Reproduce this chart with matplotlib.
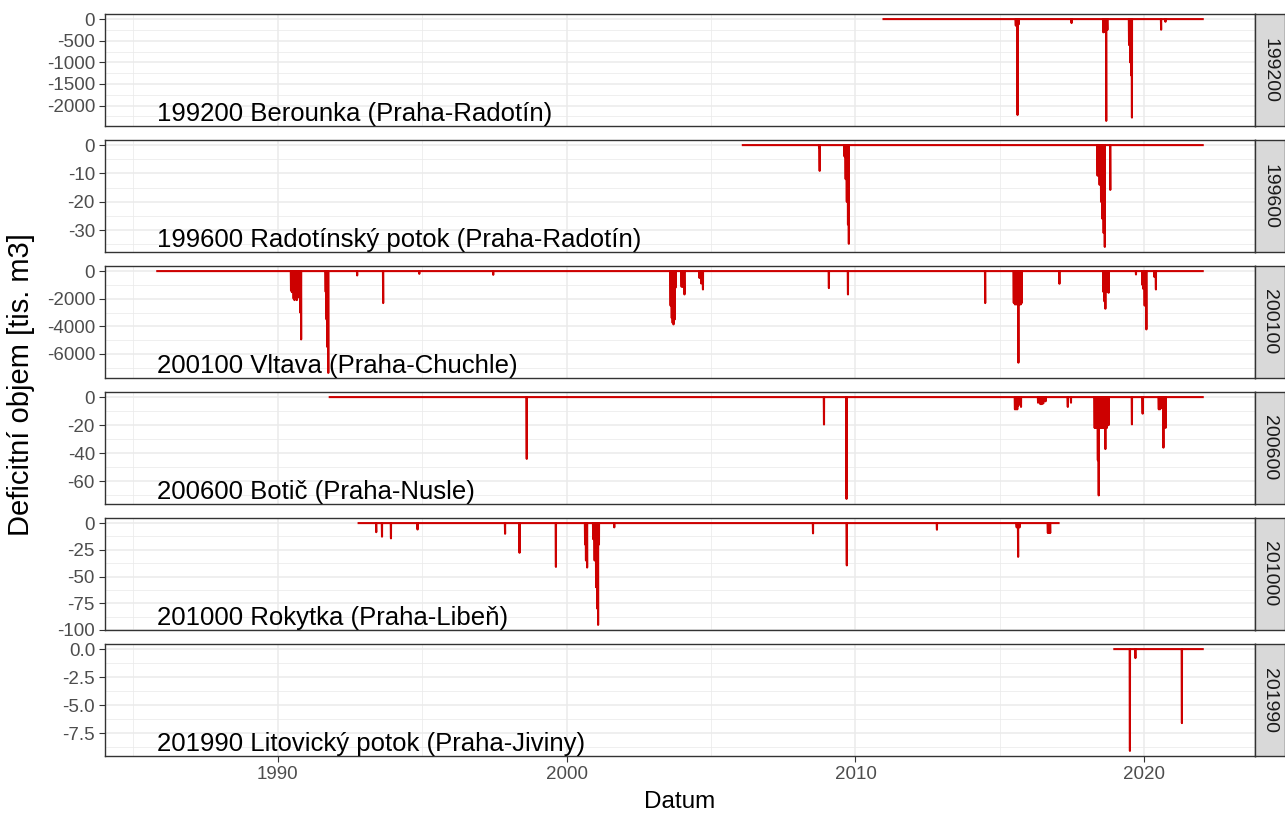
import matplotlib
matplotlib.use("Agg")
import matplotlib.pyplot as plt
from matplotlib.ticker import FixedLocator, MultipleLocator

plt.rcParams['font.family'] = ['Liberation Sans', 'DejaVu Sans']
plt.rcParams['axes.unicode_minus'] = False

# ---- data: deficit volume events per gauging station -------------------
stations = ["199200", "199600", "200100", "200600", "201000", "201990"]
station_names = [
    "199200 Berounka (Praha-Radotín)",
    "199600 Radotínský potok (Praha-Radotín)",
    "200100 Vltava (Praha-Chuchle)",
    "200600 Botič (Praha-Nusle)",
    "201000 Rokytka (Praha-Libeň)",
    "201990 Litovický potok (Praha-Jiviny)",
]

# observation period (decimal years)
span_199200 = (2010.97, 2022.02)
span_199600 = (2006.10, 2022.02)
span_200100 = (1985.83, 2022.02)
span_200600 = (1991.80, 2022.02)
span_201000 = (1992.80, 2017.03)
span_201990 = (2018.96, 2022.02)

# deficit peaks: date (decimal year) and deficit volume [tis. m3]
t_199200 = [2015.55, 2015.58, 2015.61, 2015.65, 2017.48,
            2018.58, 2018.62, 2018.68, 2018.72,
            2019.47, 2019.51, 2019.54, 2019.57, 2020.58, 2020.73]
v_199200 = [-150, -154, -2218, -120, -92,
            -306, -300, -2355, -250,
            -600, -1000, -1300, -2278, -245, -62]

t_199600 = [2008.74, 2008.76,
            2009.62, 2009.66, 2009.70, 2009.74, 2009.77,
            2018.38, 2018.45, 2018.50, 2018.55, 2018.59, 2018.63, 2018.82]
v_199600 = [-1, -9.1,
            -4, -12, -20, -28, -34.8,
            -10.8, -14, -20, -26, -31, -35.9, -15.8]

t_200100 = [1990.46, 1990.49, 1990.52, 1990.55, 1990.58, 1990.62, 1990.66,
            1990.70, 1990.74, 1990.78, 1990.81,
            1991.66, 1991.69, 1991.72, 1991.75,
            1992.75, 1993.65, 1994.90, 1997.46,
            2003.60, 2003.64, 2003.67, 2003.70, 2003.74, 2003.77,
            2003.98, 2004.02, 2004.08, 2004.60, 2004.66, 2004.72,
            2009.08, 2009.74, 2014.49,
            2015.48, 2015.52, 2015.56, 2015.60, 2015.64, 2015.68, 2015.72, 2015.76,
            2017.06,
            2018.58, 2018.62, 2018.65, 2018.70, 2018.76,
            2019.71, 2019.93, 2019.96, 2020.01, 2020.07, 2020.35, 2020.40]
v_200100 = [-1400, -1520, -1500, -2000, -2100, -1800, -2100,
            -1900, -1900, -3000, -4945,
            -1500, -3500, -5500, -7370,
            -315, -2315, -200, -270,
            -2500, -3400, -3750, -3860, -3500, -1200,
            -1135, -1135, -1690, -500, -900, -1330,
            -1230, -1690, -2315,
            -2300, -2410, -2410, -2410, -6630, -2410, -2410, -2300,
            -920,
            -1500, -2200, -2725, -1500, -1570,
            -245, -1000, -1280, -2500, -4220, -430, -1330]

t_200600 = [1998.62, 2008.91, 2009.69,
            2015.52, 2015.56, 2015.60, 2015.64, 2015.73,
            2016.32, 2016.40, 2016.45, 2016.50, 2016.58, 2017.35, 2017.46,
            2018.28, 2018.32, 2018.35, 2018.39, 2018.42, 2018.47, 2018.51,
            2018.55, 2018.59, 2018.65, 2018.70, 2018.76,
            2019.57, 2019.94,
            2020.50, 2020.54, 2020.57, 2020.66, 2020.70, 2020.74]
v_200600 = [-44, -19.5, -72.5,
            -8.7, -8.7, -8.7, -6, -7,
            -4, -5, -5, -4.5, -3, -7, -4,
            -22, -22, -20, -45, -70, -22, -22,
            -22, -22, -37, -22, -20,
            -19.4, -11.8,
            -8.7, -8.7, -8, -36, -21.8, -21.8]

t_201000 = [1993.41, 1993.61, 1993.92, 1994.84, 1997.87, 1998.37, 1999.63,
            2000.64, 2000.67, 2000.71,
            2000.92, 2000.97, 2001.02, 2001.06, 2001.09, 2001.12,
            2001.65, 2008.53, 2009.70, 2012.82,
            2015.58, 2015.63, 2015.68, 2016.66, 2016.70, 2016.74]
v_201000 = [-8.5, -12.7, -14.3, -6, -10, -27.8, -41,
            -20, -35, -41.6,
            -15, -35, -60, -80, -95.3, -20,
            -4, -9.6, -39.6, -6.2,
            -4, -31.6, -4, -9.3, -9.3, -9.3]

t_201990 = [2019.50, 2019.69, 2021.30]
v_201990 = [-9.08, -0.8, -6.6]

spans = [span_199200, span_199600, span_200100, span_200600, span_201000, span_201990]
event_t = [t_199200, t_199600, t_200100, t_200600, t_201000, t_201990]
event_v = [v_199200, v_199600, v_200100, v_200600, v_201000, v_201990]

# y-axis breaks per station
y_breaks = [
    [0, -500, -1000, -1500, -2000],
    [0, -10, -20, -30],
    [0, -2000, -4000, -6000],
    [0, -20, -40, -60],
    [0, -25, -50, -75, -100],
    [0.0, -2.5, -5.0, -7.5],
]
y_fmt = ["{:.0f}", "{:.0f}", "{:.0f}", "{:.0f}", "{:.0f}", "{:.1f}"]
x_breaks = [1990, 2000, 2010, 2020]
x_minor = [1985, 1995, 2005, 2015]

ACCUM_DAYS = 3.0  # days over which each peak deficit builds up


def deficit_series(span, t, v):
    """Deficit line: zero between events, dropping to each event peak."""
    xs, ys = [span[0]], [0.0]
    for ti, vi in sorted(zip(t, v)):
        xs += [ti - ACCUM_DAYS / 365.25, ti, ti + 1.0 / 365.25]
        ys += [0.0, vi, 0.0]
    xs.append(span[1])
    ys.append(0.0)
    return xs, ys


# ---- layout -------------------------------------------------------------
W, H = 1285, 814
fig = plt.figure(figsize=(W / 100, H / 100), dpi=100)

left_px, right_px, strip_w = 105, 1255, 30
panel_h, step = 112, 126
top0 = 14

x_lo = min(s[0] for s in spans)
x_hi = max(s[1] for s in spans)
pad = 0.05 * (x_hi - x_lo)

line_col = "#CD0000"
grid_col = "#EBEBEB"
border_col = "#333333"

for i, st in enumerate(stations):
    top = top0 + i * step
    rect = [left_px / W, 1 - (top + panel_h) / H, (right_px - left_px) / W, panel_h / H]
    ax = fig.add_axes(rect)
    xs, ys = deficit_series(spans[i], event_t[i], event_v[i])

    vmin = min(event_v[i])
    ax.set_ylim(vmin - 0.05 * abs(vmin), 0.05 * abs(vmin))
    ax.set_xlim(x_lo - pad, x_hi + pad)

    # grid
    yb = y_breaks[i]
    ystep = abs(yb[1] - yb[0])
    ax.yaxis.set_major_locator(FixedLocator(yb))
    ax.yaxis.set_minor_locator(MultipleLocator(ystep / 2))
    ax.set_yticklabels([y_fmt[i].format(b) for b in yb])
    ax.xaxis.set_major_locator(FixedLocator(x_breaks))
    ax.xaxis.set_minor_locator(FixedLocator(x_minor))
    ax.grid(which="major", color=grid_col, lw=1.1)
    ax.grid(which="minor", color=grid_col, lw=0.55)
    ax.set_axisbelow(True)

    ax.plot(xs, ys, color=line_col, lw=1.5, zorder=3)

    ax.text(x_lo, vmin, station_names[i], ha="left", va="baseline",
            fontsize=18.5, color="black", zorder=4)

    for sp in ax.spines.values():
        sp.set_color(border_col)
        sp.set_linewidth(1.0)

    ax.tick_params(axis="y", which="major", length=4.2, width=0.8, color=border_col,
                   labelsize=13.5, labelcolor="#4D4D4D", pad=3)
    ax.tick_params(axis="both", which="minor", length=0)
    if i < len(stations) - 1:
        ax.tick_params(axis="x", which="major", length=0, labelbottom=False)
    else:
        ax.set_xticklabels([str(b) for b in x_breaks])
        ax.tick_params(axis="x", which="major", length=4.2, width=0.8, color=border_col,
                       labelsize=13.5, labelcolor="#4D4D4D", pad=3)
        ax.set_xlabel("Datum", fontsize=17.5, color="black", labelpad=6)

    # facet strip
    sax = fig.add_axes([right_px / W, rect[1], strip_w / W, rect[3]])
    sax.set_facecolor("#D9D9D9")
    sax.set_xticks([])
    sax.set_yticks([])
    for sp in sax.spines.values():
        sp.set_color(border_col)
        sp.set_linewidth(1.0)
    sax.text(0.5, 0.5, st, rotation=-90, ha="center", va="center",
             fontsize=14, color="#1A1A1A", transform=sax.transAxes)

# shared y-axis title
mid_y = 1 - (top0 + (5 * step + panel_h) / 2) / H
fig.text(21 / W, mid_y, "Deficitní objem [tis. m3]", rotation=90,
         ha="center", va="center", fontsize=21, color="black")

fig.savefig("out.png", dpi=100)
